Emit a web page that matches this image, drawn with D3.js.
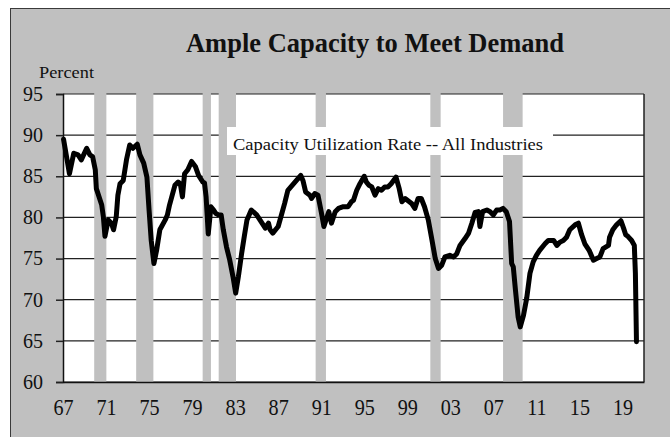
<!DOCTYPE html>
<html>
<head>
<meta charset="utf-8">
<script src="https://cdn.jsdelivr.net/npm/d3@7"></script>
<style>
  body { margin: 0; background: #ffffff; }
  svg { display: block; }
</style>
</head>
<body>
<div id="svg_container"></div>
<script>
// capacity utilization (decimal year, percent)
let years = [1967.05, 1967.3, 1967.6, 1968.0, 1968.4, 1968.7, 1969.2, 1969.5, 1969.75, 1970.0,
    1970.1, 1970.6, 1970.75, 1970.9, 1971.2, 1971.5, 1971.7, 1971.95, 1972.1, 1972.3,
    1972.6, 1972.9, 1973.2, 1973.5, 1973.9, 1974.15, 1974.5, 1974.8, 1975.0, 1975.2,
    1975.45, 1975.7, 1976.0, 1976.5, 1976.7, 1976.9, 1977.4, 1977.7, 1977.9, 1978.1,
    1978.3, 1978.6, 1978.95, 1979.3, 1979.6, 1980.0, 1980.15, 1980.3, 1980.5, 1980.75,
    1981.0, 1981.2, 1981.45, 1981.7, 1981.9, 1982.2, 1982.5, 1982.8, 1983.05, 1983.3,
    1983.6, 1983.85, 1984.1, 1984.5, 1985.0, 1985.5, 1985.8, 1986.1, 1986.25, 1986.5,
    1987.0, 1987.3, 1987.6, 1987.9, 1988.3, 1988.7, 1989.1, 1989.3, 1989.55, 1989.95,
    1990.1, 1990.4, 1990.7, 1991.0, 1991.25, 1991.5, 1991.7, 1991.95, 1992.3, 1992.6,
    1993.05, 1993.5, 1993.8, 1994.0, 1994.3, 1994.6, 1995.0, 1995.2, 1995.45, 1995.7,
    1996.0, 1996.3, 1996.6, 1996.9, 1997.2, 1997.5, 1997.95, 1998.25, 1998.5, 1998.8,
    1999.1, 1999.4, 1999.7, 2000.0, 2000.3, 2000.6, 2000.95, 2001.3, 2001.6, 2001.9,
    2002.2, 2002.5, 2002.95, 2003.3, 2003.6, 2003.9, 2004.35, 2004.7, 2005.0, 2005.3,
    2005.6, 2005.75, 2006.0, 2006.4, 2006.7, 2007.0, 2007.3, 2007.6, 2007.9, 2008.2,
    2008.5, 2008.7, 2008.85, 2009.05, 2009.3, 2009.5, 2009.8, 2010.1, 2010.4, 2010.7,
    2011.0, 2011.3, 2011.8, 2012.1, 2012.6, 2012.9, 2013.2, 2013.5, 2013.8, 2014.1,
    2014.6, 2014.9, 2015.2, 2015.5, 2015.9, 2016.3, 2016.6, 2016.9, 2017.2, 2017.7,
    2017.8, 2018.1, 2018.45, 2018.85, 2019.1, 2019.3, 2019.5, 2019.85, 2020.1, 2020.2,
    2020.3];
let rates = [89.5, 87.6, 85.3, 87.8, 87.6, 87.0, 88.4, 87.6, 87.4, 85.8,
    83.5, 81.5, 80.1, 77.7, 79.7, 79.3, 78.5, 80.1, 82.7, 84.1,
    84.5, 87.0, 88.8, 88.4, 88.9, 87.6, 86.6, 84.9, 80.9, 77.2,
    74.4, 76.0, 78.5, 79.7, 80.3, 81.5, 83.9, 84.3, 84.1, 82.5,
    85.3, 85.8, 86.8, 86.2, 85.1, 84.3, 84.2, 82.5, 78.0, 81.3,
    80.9, 80.5, 80.3, 80.3, 78.5, 76.4, 74.8, 72.8, 70.8, 72.8,
    75.6, 77.7, 79.7, 80.9, 80.3, 79.3, 78.7, 79.3, 78.5, 78.1,
    78.9, 80.3, 81.7, 83.3, 83.9, 84.5, 85.1, 84.5, 83.1, 82.7,
    82.3, 82.9, 82.7, 80.7, 78.9, 79.9, 80.7, 79.3, 80.7, 81.1,
    81.3, 81.3, 81.9, 82.1, 83.3, 84.1, 85.0, 84.3, 83.9, 83.7,
    82.7, 83.5, 83.3, 83.7, 83.7, 84.1, 84.9, 83.5, 81.9, 82.3,
    82.0, 81.7, 81.1, 82.3, 82.3, 81.3, 79.7, 77.2, 75.0, 73.8,
    74.2, 75.2, 75.4, 75.2, 75.6, 76.6, 77.4, 78.1, 79.3, 80.6,
    80.7, 78.9, 80.7, 80.9, 80.7, 80.3, 80.9, 80.9, 81.1, 80.7,
    79.5, 74.4, 74.0, 71.2, 67.9, 66.7, 68.1, 70.2, 73.2, 74.6,
    75.4, 76.0, 76.8, 77.2, 77.2, 76.6, 77.0, 77.2, 77.6, 78.5,
    79.1, 79.3, 77.9, 76.8, 76.0, 74.8, 75.0, 75.2, 76.2, 76.6,
    77.6, 78.5, 79.1, 79.6, 78.7, 77.9, 77.7, 77.2, 76.6, 73.2,
    64.9];

// recession shading
let recStart = [1969.9, 1973.8, 1979.98, 1981.47, 1990.48, 2001.14, 2007.9];
let recEnd   = [1971.03, 1975.4, 1980.75, 1983.08, 1991.44, 2002.1, 2009.72];

let xTicks = [1967, 1971, 1975, 1979, 1983, 1987, 1991, 1995, 1999, 2003, 2007, 2011, 2015, 2019];
let yTicks = [60, 65, 70, 75, 80, 85, 90, 95];

let chartTitle = "Ample Capacity to Meet Demand";
let seriesLabel = "Capacity Utilization Rate -- All Industries";

function init() {
    let W = 670, H = 437;
    let plot = {left: 63, top: 94, right: 644, bottom: 382};
    let serif = "'Liberation Serif', 'Times New Roman', serif";

    let svg = d3.select("#svg_container")
        .append("svg")
        .attr("width", W)
        .attr("height", H);

    // gray panel
    svg.append("rect")
        .attr("x", 10.5).attr("y", 8.5)
        .attr("width", 700).attr("height", 500)
        .attr("fill", "#c0c0c0")
        .attr("stroke", "#3a3a3a")
        .attr("stroke-width", 1);

    let x = d3.scaleLinear().domain([1967, 2021]).range([plot.left, plot.right]);
    let y = d3.scaleLinear().domain([60, 95]).range([plot.bottom, plot.top]);

    svg.append("rect")
        .attr("x", plot.left).attr("y", plot.top)
        .attr("width", plot.right - plot.left)
        .attr("height", plot.bottom - plot.top)
        .attr("fill", "white");

    // gridlines
    svg.append("g")
        .selectAll("line")
        .data(yTicks)
        .enter()
        .append("line")
        .attr("x1", plot.left).attr("x2", plot.right)
        .attr("y1", d => y(d)).attr("y2", d => y(d))
        .attr("stroke", "#222")
        .attr("stroke-width", 1.2);

    // recession bars (over the gridlines)
    svg.append("g")
        .selectAll("rect")
        .data(recStart)
        .enter()
        .append("rect")
        .attr("x", (d, i) => x(d))
        .attr("width", (d, i) => x(recEnd[i]) - x(d))
        .attr("y", y(95) - 1)
        .attr("height", y(60) - y(95) + 1)
        .attr("fill", "#c0c0c0");

    // right border
    svg.append("line")
        .attr("x1", plot.right).attr("x2", plot.right)
        .attr("y1", plot.top).attr("y2", plot.bottom)
        .attr("stroke", "#222").attr("stroke-width", 1.5);

    // y axis
    let yAxis = svg.append("g")
        .attr("transform", "translate(" + plot.left + ",0)")
        .call(d3.axisLeft(y).tickValues(yTicks).tickSize(7).tickPadding(13));
    yAxis.select(".domain").attr("stroke", "#111").attr("stroke-width", 1.5);
    yAxis.selectAll(".tick line").attr("stroke", "#222").attr("stroke-width", 1.5);
    yAxis.selectAll("text")
        .attr("font-family", serif)
        .attr("font-size", "20px")
        .attr("fill", "#111");

    // x axis
    let xAxis = svg.append("g")
        .attr("transform", "translate(0," + plot.bottom + ")")
        .call(d3.axisBottom(x).tickValues(xTicks).tickSize(0)
            .tickFormat(d => String(d % 100).padStart(2, "0")));
    xAxis.select(".domain").attr("stroke", "#111").attr("stroke-width", 1.5);
    xAxis.selectAll("text")
        .attr("y", 0).attr("dy", 0)
        .attr("transform", "translate(0,33) scale(0.84,1)")
        .attr("font-family", serif)
        .attr("font-size", "24px")
        .attr("fill", "#111");

    // series label box
    svg.append("rect")
        .attr("x", 227).attr("y", 127)
        .attr("width", 326).attr("height", 28)
        .attr("fill", "white");
    svg.append("text")
        .attr("x", 233).attr("y", 150)
        .attr("font-family", serif)
        .attr("font-size", "17px")
        .attr("textLength", 310)
        .attr("lengthAdjust", "spacingAndGlyphs")
        .attr("fill", "#111")
        .text(seriesLabel);

    // the line
    let pts = years.map((d, i) => [d, rates[i]]);
    svg.append("path")
        .datum(pts)
        .attr("fill", "none")
        .attr("stroke", "black")
        .attr("stroke-width", 5)
        .attr("stroke-linejoin", "round")
        .attr("stroke-linecap", "round")
        .attr("d", d3.line().x(d => x(d[0])).y(d => y(d[1])));

    // titles
    svg.append("text")
        .attr("x", 186).attr("y", 52)
        .attr("font-family", serif)
        .attr("font-weight", "bold")
        .attr("font-size", "27px")
        .attr("textLength", 378)
        .attr("lengthAdjust", "spacingAndGlyphs")
        .attr("fill", "#111")
        .text(chartTitle);

    svg.append("text")
        .attr("x", 39).attr("y", 78)
        .attr("font-family", serif)
        .attr("font-size", "16.5px")
        .attr("textLength", 55)
        .attr("lengthAdjust", "spacingAndGlyphs")
        .attr("fill", "#111")
        .text("Percent");
}

init();
</script>
</body>
</html>
